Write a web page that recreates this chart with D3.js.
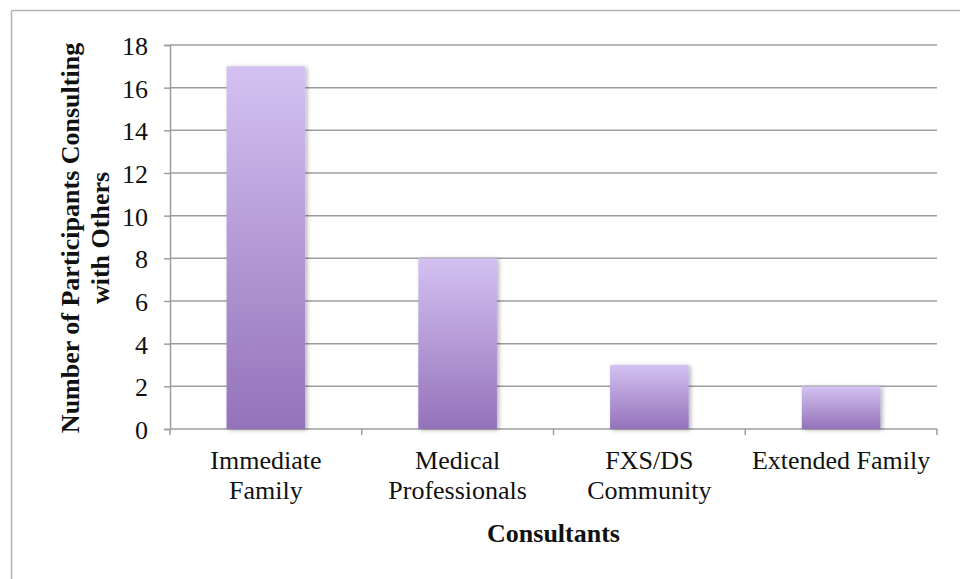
<!DOCTYPE html>
<html>
<head>
<meta charset="utf-8">
<script src="https://cdn.jsdelivr.net/npm/d3@7"></script>
<style>
  html, body { margin: 0; padding: 0; background: #fff; overflow: hidden; }
  svg { display: block; font-family: "Liberation Serif", "Times New Roman", serif; }
</style>
</head>
<body>
<svg id="chart" width="960" height="579" viewBox="0 0 960 579"></svg>
<script>
// data
const categories = ["Immediate Family", "Medical Professionals", "FXS/DS Community", "Extended Family"];
const categoryLines = [["Immediate", "Family"], ["Medical", "Professionals"], ["FXS/DS", "Community"], ["Extended Family"]];
const counts = [17, 8, 3, 2];
const yTicks = [0, 2, 4, 6, 8, 10, 12, 14, 16, 18];
const yTitle = ["Number of Participants Consulting", "with Others"];
const xTitle = "Consultants";

const svg = d3.select("#chart");
const width = 960, height = 579;
const margin = { top: 45, right: 23, bottom: 150, left: 170 };
const innerWidth = width - margin.left - margin.right,
    innerHeight = height - margin.top - margin.bottom;

const gridColor = "#9d9d9d";
const fontSize = 26;

// outer frame: only the top and left edges fall inside the picture
svg.append("line")
    .attr("x1", 11.5).attr("x2", 11.5)
    .attr("y1", 10.5).attr("y2", height)
    .attr("stroke", "#b3b3b3").attr("stroke-width", 1.5);
svg.append("line")
    .attr("x1", 11.5).attr("x2", width)
    .attr("y1", 10.5).attr("y2", 10.5)
    .attr("stroke", "#b3b3b3").attr("stroke-width", 1.5);

const defs = svg.append("defs");
const grad = defs.append("linearGradient")
    .attr("id", "barGrad")
    .attr("x1", 0).attr("y1", 0).attr("x2", 0).attr("y2", 1);
grad.append("stop").attr("offset", "0%").attr("stop-color", "#d4c1f1");
grad.append("stop").attr("offset", "100%").attr("stop-color", "#9372ba");

const shadow = defs.append("filter")
    .attr("id", "barShadow")
    .attr("x", "-20%").attr("y", "-10%").attr("width", "140%").attr("height", "120%");
shadow.append("feDropShadow")
    .attr("dx", 2).attr("dy", 1)
    .attr("stdDeviation", 2)
    .attr("flood-color", "#000")
    .attr("flood-opacity", 0.3);

const g = svg.append("g").attr("transform", `translate(${margin.left},${margin.top})`);

// scales
const x = d3.scaleBand()
    .domain(categories)
    .range([0, innerWidth])
    .padding(0);
const y = d3.scaleLinear()
    .domain([0, 18])
    .range([innerHeight, 0]);

// gridlines
g.append("g")
    .selectAll("line")
    .data(yTicks)
    .join("line")
    .attr("x1", 0).attr("x2", innerWidth)
    .attr("y1", d => y(d)).attr("y2", d => y(d))
    .attr("stroke", gridColor)
    .attr("stroke-width", 1.5);

// y axis
const yAxis = g.append("g")
    .call(d3.axisLeft(y).tickValues(yTicks).tickSize(6).tickPadding(16));
yAxis.attr("font-family", "Liberation Serif").attr("font-size", fontSize);
yAxis.select(".domain").attr("stroke", gridColor).attr("stroke-width", 1.5);
yAxis.selectAll(".tick line").attr("stroke", gridColor).attr("stroke-width", 1.5);
yAxis.selectAll(".tick text")
    .attr("fill", "#111")
    .attr("dy", "0.36em");

// x axis ticks at category boundaries
const bounds = categories.map(c => x(c)).concat([innerWidth]);
g.append("g")
    .selectAll("line")
    .data(bounds)
    .join("line")
    .attr("x1", d => d).attr("x2", d => d)
    .attr("y1", innerHeight).attr("y2", innerHeight + 6)
    .attr("stroke", gridColor)
    .attr("stroke-width", 1.5);

// bars
const barFrac = 0.41;
g.append("g")
    .selectAll("rect")
    .data(counts)
    .join("rect")
    .attr("x", (d, i) => x(categories[i]) + x.bandwidth() * (1 - barFrac) / 2)
    .attr("width", x.bandwidth() * barFrac)
    .attr("y", d => y(d))
    .attr("height", d => innerHeight - y(d))
    .attr("fill", "url(#barGrad)")
    .attr("filter", "url(#barShadow)");

// category labels, one text per line
const labelRows = categoryLines.flatMap((lines, i) =>
    lines.map((t, j) => ({ cat: categories[i], text: t, row: j })));
g.append("g")
    .selectAll("text")
    .data(labelRows)
    .join("text")
    .attr("text-anchor", "middle")
    .attr("font-size", fontSize)
    .attr("fill", "#111")
    .attr("x", d => x(d.cat) + x.bandwidth() / 2)
    .attr("y", d => innerHeight + 40 + d.row * 30)
    .text(d => d.text);

// x title
g.append("text")
    .attr("text-anchor", "middle")
    .attr("font-size", fontSize)
    .attr("font-weight", "bold")
    .attr("fill", "#111")
    .attr("x", innerWidth / 2)
    .attr("y", innerHeight + 113)
    .text(xTitle);

// y title, one text per line
svg.append("g")
    .selectAll("text")
    .data(yTitle)
    .join("text")
    .attr("text-anchor", "middle")
    .attr("font-size", fontSize)
    .attr("font-weight", "bold")
    .attr("fill", "#111")
    .attr("transform", (d, i) => `translate(${79 + i * 30},238) rotate(-90)`)
    .text(d => d);
</script>
</body>
</html>
